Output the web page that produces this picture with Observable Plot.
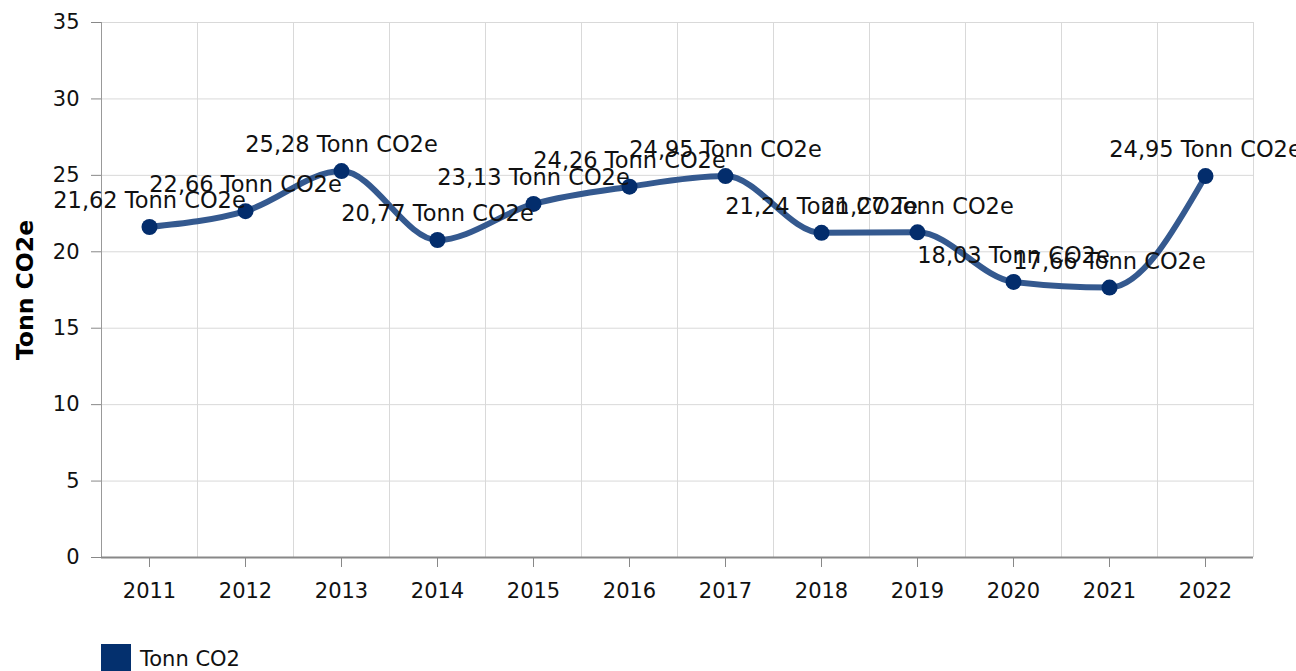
<!DOCTYPE html>
<html>
<head>
<meta charset="utf-8">
<script src="https://cdn.jsdelivr.net/npm/d3@7"></script>
<script src="https://cdn.jsdelivr.net/npm/@observablehq/plot@0.6"></script>
<style>
  html, body { margin: 0; padding: 0; background: #fff; overflow: hidden; }
  body { width: 1296px; height: 671px; font-family: "DejaVu Sans", Verdana, sans-serif; }
  #legend { display: flex; align-items: center; margin-left: 101px; margin-top: 14px; font-size: 21px; color: #111; }
  #legend .sw { width: 30px; height: 30px; background: #04306e; margin-right: 9px; }
</style>
</head>
<body>
<div id="chart"></div>
<div id="legend"><div class="sw"></div><span>Tonn CO2</span></div>
<script>
const years = [2011, 2012, 2013, 2014, 2015, 2016, 2017, 2018, 2019, 2020, 2021, 2022];
const values = [21.62, 22.66, 25.28, 20.77, 23.13, 24.26, 24.95, 21.24, 21.27, 18.03, 17.66, 24.95];
const unit = "Tonn CO2e";
const seriesName = "Tonn CO2";
const yTicks = [0, 5, 10, 15, 20, 25, 30, 35];

const data = years.map((year, i) => ({year, value: values[i], label: values[i].toFixed(2).replace(".", ",") + " " + unit}));
const boundaries = years.slice(1).map(y => y - 0.5).concat([years[years.length - 1] + 0.5]);

const chart = Plot.plot({
  width: 1296,
  height: 630,
  marginLeft: 101,
  marginRight: 43,
  marginTop: 22,
  marginBottom: 73,
  style: {fontFamily: "DejaVu Sans, Verdana, sans-serif", fontSize: "21px", color: "#111", background: "#fff"},
  x: {domain: [years[0] - 0.5, years[years.length - 1] + 0.5]},
  y: {domain: [0, 35]},
  marks: [
    Plot.gridY(yTicks, {stroke: "#d9d9d9", strokeOpacity: 1}),
    Plot.ruleX(boundaries, {stroke: "#d9d9d9"}),
    Plot.axisY(yTicks, {tickSize: 10, tickPadding: 12, stroke: "#888", label: null, fontSize: 21}),
    Plot.ruleX([years[0] - 0.5], {stroke: "#999", strokeWidth: 1}),
    Plot.axisX(years, {tickSize: 10, tickPadding: 16, stroke: "#888", tickFormat: d => String(d), label: null, fontSize: 21}),
    Plot.ruleY([0], {stroke: "#888", strokeWidth: 2}),
    Plot.line(data, {x: "year", y: "value", curve: "monotone-x", stroke: "#34598f", strokeWidth: 6, strokeOpacity: 1}),
    Plot.dot(data, {x: "year", y: "value", r: 8, fill: "#032d6c", stroke: "none"}),
    Plot.text(data, {x: "year", y: "value", text: "label", dy: -26, fill: "#111", fontSize: 22.5}),
    Plot.text([unit], {frameAnchor: "left", textAnchor: "middle", text: d => d, rotate: -90, dx: -76, fontWeight: "bold", fontSize: 23.5, fill: "#000"})
  ]
});
document.getElementById("chart").appendChild(chart);
</script>
</body>
</html>
